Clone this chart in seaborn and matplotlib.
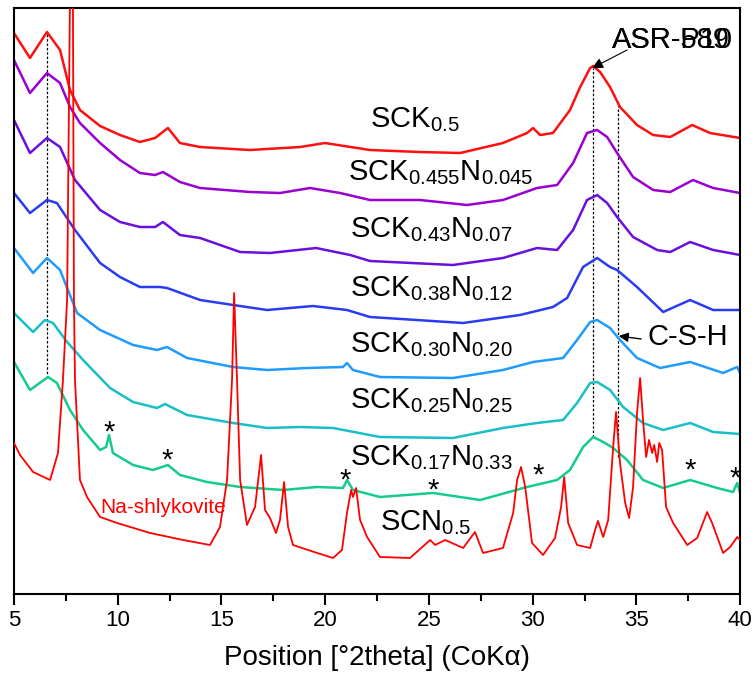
import matplotlib
matplotlib.use('Agg')
import matplotlib.pyplot as plt
import seaborn as sns

# stacked XRD patterns, intensity in arbitrary (offset) units
tt_sck05 = [5.00, 5.77, 6.59, 7.22, 7.70, 8.18, 9.15, 10.11, 11.07, 11.80, 12.42, 13.00, 13.97, 16.38, 18.79,
            19.99, 22.16, 24.57, 26.50, 28.57, 29.73, 30.02, 30.36, 30.98, 31.80, 32.29, 32.77, 32.92, 33.25,
            33.73, 34.21, 35.03, 35.81, 36.63, 37.69, 38.55, 40.00]
i_sck05 = [561, 536, 562, 544, 504, 484, 468, 459, 452, 456, 466, 451, 447, 444, 447,
           451, 444, 442, 441, 451, 461, 466, 459, 461, 484, 507, 526, 528, 522,
           507, 487, 469, 459, 457, 469, 461, 456]

tt_k0455 = [5.00, 5.77, 6.59, 7.22, 7.70, 8.18, 9.15, 10.11, 11.07, 11.80, 12.18, 13.00, 13.97, 16.38, 17.82,
            19.27, 20.72, 22.16, 24.57, 26.84, 28.57, 30.21, 31.18, 31.95, 32.62, 33.11, 33.59, 34.07, 34.84,
            35.81, 36.63, 37.73, 38.70, 40.00]
i_k0455 = [534, 501, 521, 511, 487, 471, 451, 434, 421, 419, 422, 412, 406, 402, 401,
           406, 401, 394, 394, 389, 394, 406, 409, 431, 461, 464, 457, 441, 417,
           404, 402, 414, 406, 401]

tt_k043 = [5.00, 5.77, 6.59, 7.22, 7.94, 9.15, 10.11, 11.07, 11.80, 12.18, 13.00, 13.97, 15.90, 17.34, 19.56,
           21.20, 22.16, 26.16, 28.57, 30.21, 31.18, 31.95, 32.62, 33.11, 33.59, 34.07, 34.84, 36.00, 36.63,
           37.59, 38.70, 40.00]
i_k043 = [474, 441, 456, 447, 414, 384, 372, 367, 367, 372, 359, 356, 342, 341, 346,
          339, 333, 329, 336, 346, 344, 364, 394, 399, 391, 377, 357, 344, 342,
          352, 344, 339]

tt_k038 = [5.00, 5.77, 6.59, 7.07, 7.94, 9.15, 10.11, 11.07, 12.04, 12.38, 13.97, 15.56, 17.20, 19.41, 21.05,
           22.16, 26.65, 29.39, 30.98, 31.66, 32.43, 33.11, 33.73, 34.07, 35.03, 36.29, 37.59, 38.70, 40.00]
i_k038 = [401, 381, 394, 391, 364, 331, 317, 307, 307, 306, 294, 289, 284, 288, 284,
          277, 271, 279, 287, 296, 327, 336, 327, 324, 307, 282, 294, 284, 284]

tt_k030 = [5.00, 5.92, 6.59, 7.22, 8.04, 9.15, 10.74, 11.89, 12.38, 13.34, 15.56, 17.20, 19.13, 20.86, 21.05,
           21.34, 22.64, 26.16, 28.57, 30.02, 31.47, 32.14, 32.77, 33.11, 33.73, 34.21, 35.03, 36.14, 37.59,
           39.18, 39.86, 40.00]
i_k030 = [346, 321, 336, 324, 281, 264, 249, 244, 247, 236, 227, 224, 226, 227, 231,
          224, 217, 216, 224, 232, 236, 254, 272, 274, 266, 254, 236, 226, 232,
          221, 227, 221]

tt_k025 = [5.00, 5.92, 6.49, 6.88, 7.56, 8.33, 9.63, 10.74, 11.89, 12.28, 13.34, 15.56, 17.20, 18.79, 20.38,
           22.64, 26.16, 28.57, 30.21, 31.47, 32.14, 32.77, 33.11, 33.73, 34.36, 35.32, 36.29, 37.59, 38.70,
           40.00]
i_k025 = [281, 262, 274, 271, 252, 234, 206, 192, 186, 190, 179, 171, 166, 167, 166,
          157, 156, 166, 171, 174, 191, 211, 212, 204, 187, 171, 164, 171, 162,
          160]

tt_k017 = [5.00, 5.77, 6.64, 7.07, 7.70, 8.33, 9.15, 9.44, 9.58, 9.77, 10.74, 11.70, 12.42, 13.00, 14.30,
           15.90, 17.97, 19.61, 20.86, 21.05, 21.34, 22.64, 25.20, 27.47, 29.73, 31.18, 31.80, 32.43, 32.92,
           33.40, 33.88, 34.55, 35.32, 36.29, 37.59, 38.89, 39.66, 39.86, 40.00]
i_k017 = [232, 204, 217, 211, 184, 164, 144, 147, 159, 141, 129, 124, 129, 119, 112,
          107, 104, 107, 106, 114, 104, 97, 101, 94, 107, 114, 124, 147, 157,
          152, 146, 134, 114, 106, 114, 106, 102, 111, 101]

tt_scn05 = [5.00, 5.29, 5.92, 6.74, 7.12, 7.36, 7.56, 7.70, 7.78, 7.84, 7.89, 7.94, 8.18, 8.52, 9.15,
            9.97, 11.56, 13.15, 14.45, 14.93, 15.27, 15.51, 15.61, 15.75, 15.90, 16.23, 16.62, 16.91, 17.10,
            17.34, 17.63, 17.82, 18.02, 18.21, 18.45, 19.61, 20.38, 20.81, 21.05, 21.25, 21.34, 21.49, 21.68,
            22.02, 22.64, 24.09, 25.06, 25.30, 25.78, 26.65, 27.22, 27.61, 28.57, 29.06, 29.25, 29.44, 29.64,
            29.97, 30.50, 31.08, 31.37, 31.52, 31.71, 32.14, 32.77, 33.01, 33.15, 33.40, 33.64, 33.88, 34.02,
            34.21, 34.46, 34.65, 34.84, 35.03, 35.18, 35.32, 35.47, 35.61, 35.76, 35.86, 36.00, 36.10, 36.24,
            36.43, 36.77, 37.45, 37.93, 38.41, 38.65, 39.18, 39.52, 39.86, 40.00]
i_scn05 = [151, 139, 122, 114, 141, 214, 294, 600, 700, 600, 294, 214, 114, 97, 77,
           71, 61, 54, 49, 67, 114, 214, 301, 214, 114, 69, 87, 139, 84,
           76, 61, 74, 112, 67, 49, 41, 36, 44, 81, 104, 97, 106, 74,
           57, 37, 36, 54, 49, 54, 46, 62, 41, 46, 81, 114, 127, 107,
           51, 39, 56, 87, 117, 71, 49, 46, 64, 73, 57, 74, 147, 182,
           131, 91, 76, 107, 181, 216, 174, 137, 154, 141, 149, 132, 151, 144,
           87, 71, 49, 56, 82, 71, 41, 47, 57, 54]

series = [
    (tt_sck05, i_sck05, '#ff1010', 1.8),
    (tt_k0455, i_k0455, '#9a00d0', 1.8),
    (tt_k043, i_k043, '#6a10dc', 1.8),
    (tt_k038, i_k038, '#2a3cf2', 1.8),
    (tt_k030, i_k030, '#1e9cff', 1.8),
    (tt_k025, i_k025, '#19bfc6', 1.8),
    (tt_k017, i_k017, '#16cc8a', 1.8),
    (tt_scn05, i_scn05, '#ff0000', 1.3),
]

labels = [r'SCK$_{0.5}$', r'SCK$_{0.455}$N$_{0.045}$', r'SCK$_{0.43}$N$_{0.07}$', r'SCK$_{0.38}$N$_{0.12}$',
          r'SCK$_{0.30}$N$_{0.20}$', r'SCK$_{0.25}$N$_{0.25}$', r'SCK$_{0.17}$N$_{0.33}$', r'SCN$_{0.5}$']
label_x = [22.16, 21.10, 21.20, 21.20, 21.20, 21.20, 21.20, 22.64]
label_y = [467, 414, 357, 298, 242, 186, 129, 64]

star_x = [9.58, 12.38, 20.96, 25.20, 30.26, 37.59, 39.76]
star_y = [153, 125, 105, 95, 110, 115, 107]

sns.set_style('ticks')
plt.rcParams['font.family'] = ['Liberation Sans', 'DejaVu Sans']
plt.rcParams['mathtext.fontset'] = 'custom'
plt.rcParams['mathtext.rm'] = 'Liberation Sans'
plt.rcParams['mathtext.it'] = 'Liberation Sans:italic'
plt.rcParams['text.color'] = 'black'
plt.rcParams['axes.labelcolor'] = 'black'
plt.rcParams['axes.edgecolor'] = 'black'
plt.rcParams['xtick.color'] = 'black'

fig = plt.figure(figsize=(7.56, 6.91), dpi=100)
ax = fig.add_axes([0.0185, 0.1404, 0.9605, 0.848])

for i, (tt, inten, col, lw) in enumerate(series):
    sns.lineplot(x=tt, y=inten, color=col, lw=lw, ax=ax, estimator=None, sort=False,
                 zorder=3 if i == 7 else 2)

# dotted guide lines
ax.vlines([6.59, 32.92, 34.12], [216, 157, 137], [561, 526, 489], colors='k',
          linestyles=(0, (2, 1.5)), lw=0.9, zorder=1)

for lab, x, y in zip(labels, label_x, label_y):
    ax.text(x, y, lab, fontsize=21, va='baseline', ha='left')

for x, y in zip(star_x, star_y):
    ax.text(x, y, '*', fontsize=21, ha='center', va='baseline')

ax.text(9.15, 81, 'Na-shlykovite', color='#ff0000', fontsize=15, va='baseline')

ax.annotate('C-S-H', xy=(34.15, 258), xytext=(35.52, 249), fontsize=21, va='baseline',
            arrowprops=dict(arrowstyle='-|>', color='k', lw=1, mutation_scale=14,
                            shrinkA=2, shrinkB=0, relpos=(0, 0.4)))
ax.text(33.83, 546, 'ASR-589', fontsize=21, va='baseline')
ax.text(33.83, 546, 'ASR-P10', fontsize=21, va='baseline')
ax.annotate('', xy=(32.87, 526), xytext=(34.55, 544),
            arrowprops=dict(arrowstyle='-|>', color='k', lw=0.8, mutation_scale=16, shrinkA=0, shrinkB=0))

ax.set_xlim(5, 40)
ax.set_ylim(0, 586)
ax.set_yticks([])
ax.set_ylabel('')
ax.set_xticks([5, 10, 15, 20, 25, 30, 35, 40])
ax.set_xticks([7.5, 12.5, 17.5, 22.5, 27.5, 32.5, 37.5], minor=True)
ax.tick_params(axis='x', which='major', direction='out', length=8, width=1.5, labelsize=16)
ax.tick_params(axis='x', which='minor', direction='out', length=5, width=1.5)
for sp in ax.spines.values():
    sp.set_visible(True)
    sp.set_linewidth(1.5)
ax.set_xlabel('Position [°2theta] (CoKα)', fontsize=20, labelpad=10)

plt.savefig('out.png', dpi=100)
